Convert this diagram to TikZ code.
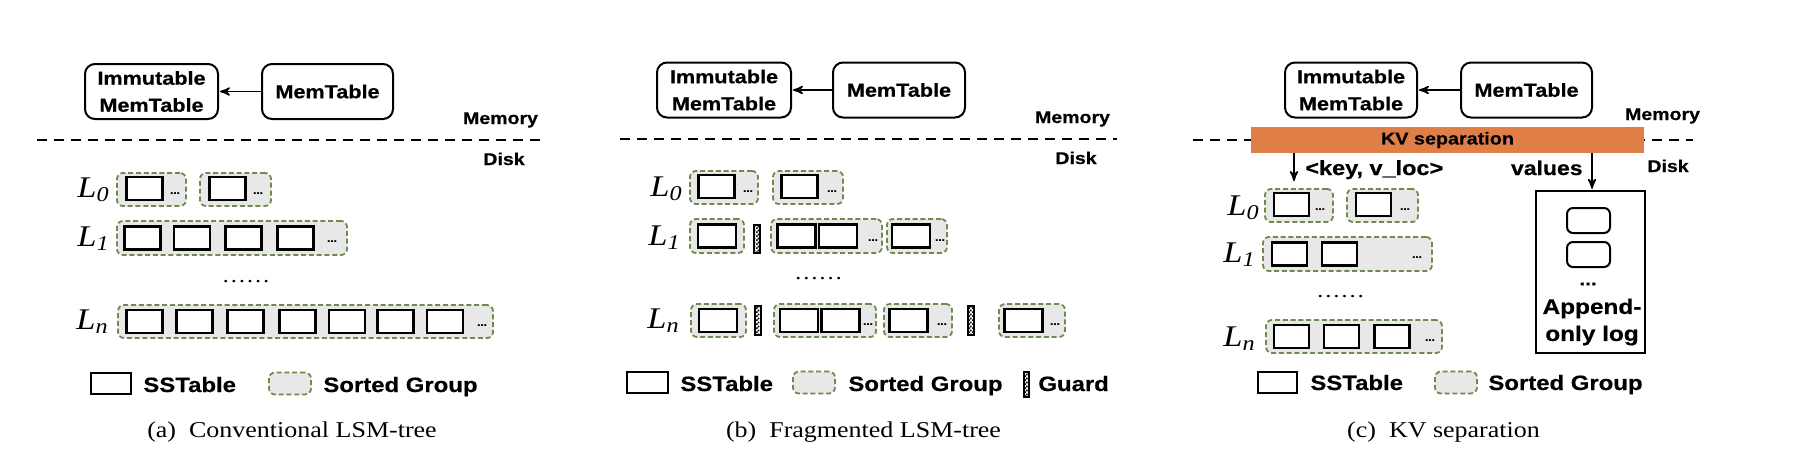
\documentclass[tikz,border=0pt]{standalone}
\usepackage{fontspec}
\setmainfont{Liberation Serif}[FakeStretch=1.15]
\setsansfont{Liberation Sans}[FakeStretch=1.15,BoldFeatures={FakeBold=0.5}]
\usetikzlibrary{arrows,patterns,positioning}

\definecolor{sgreen}{HTML}{6E8B4E}
\definecolor{sgray}{HTML}{E8E8E8}
\definecolor{kvorange}{HTML}{E07E47}

% small black/white checks for the guards
\pgfdeclarepatternformonly{guardcheck}{\pgfqpoint{0pt}{0pt}}{\pgfqpoint{2pt}{2pt}}{\pgfqpoint{2pt}{2pt}}{%
  \pgfpathrectangle{\pgfqpoint{0pt}{0pt}}{\pgfqpoint{1pt}{1pt}}%
  \pgfpathrectangle{\pgfqpoint{1pt}{1pt}}{\pgfqpoint{1pt}{1pt}}%
  \pgfusepath{fill}}

\begin{document}
\begin{tikzpicture}[x=0.5pt,y=-0.5pt,>=stealth',
    memnode/.style={draw,fill=white,rounded corners=5pt,line width=1pt,align=center,inner sep=0pt,minimum height=27.5pt,
                    font=\fontsize{9.4}{13.5}\selectfont\sffamily\bfseries},
    sst/.style={draw,fill=white,line width=1.3pt,inner sep=0pt,minimum width=18pt,minimum height=11.5pt},
    sgroup/.style={draw=sgreen,fill=sgray,dash pattern=on 2.5pt off 1.4pt,line width=0.9pt,rounded corners=3pt,
                   inner sep=0pt,minimum height=16.5pt},
    guard/.style={draw,fill=white,line width=0.7pt,pattern=guardcheck,inner sep=0pt,minimum width=3pt,minimum height=14pt},
    gdots/.style={inner sep=0pt,font=\fontsize{5}{5}\selectfont\sffamily\bfseries},
    lvl/.style={anchor=base west,inner sep=0pt,font=\fontsize{15}{15}\selectfont\itshape},
    vdots/.style={anchor=base,inner sep=0pt,font=\fontsize{10.5}{10.5}\selectfont},
    side/.style={anchor=base,inner sep=0pt,font=\fontsize{8.5}{8.5}\selectfont\sffamily\bfseries},
    legtext/.style={anchor=base west,inner sep=0pt,font=\fontsize{10.4}{10.4}\selectfont\sffamily\bfseries},
    captext/.style={anchor=base,inner sep=0pt,font=\fontsize{11.3}{11.3}\selectfont},
    sepline/.style={dash pattern=on 5pt off 3.5pt,line width=1pt},
    memarrow/.style={->,line width=0.8pt,shorten >=0.5pt}]

  \useasboundingbox (0,0) rectangle (1798,468);

  % (a) conventional LSM-tree
  \node[memnode,minimum width=66.5pt] (a-imm) at (151.5,91.5) {Immutable\\MemTable};
  \node[memnode,minimum width=65.5pt] (a-mem) at (327.5,91.5) {MemTable};
  \draw[memarrow] (a-mem) -- (a-imm);
  \node[side] (a-memory) at (500.5,124) {Memory};
  \node[side] (a-disk) at (504,165) {Disk};
  \draw[sepline] (37,140) -- (545,140);

  \node[lvl] (a-l0) at (77,197) {L\textsubscript{0}};
  \node[lvl] (a-l1) at (77,246) {L\textsubscript{1}};
  \node[lvl] (a-ln) at (76,329) {L\textsubscript{n}};

  \node[sgroup,minimum width=34.5pt] (a-g01) at (151.5,189.5) {};
  \node[sgroup,minimum width=35.5pt] (a-g02) at (235.5,189.5) {};
  \node[sst] (a-s01) at (144.5,188.5) {};
  \node[sst] (a-s02) at (227.5,188.5) {};
  \node[gdots] (a-d01) at (175,193) {...};
  \node[gdots] (a-d02) at (258,193) {...};

  \node[sgroup,minimum width=115pt,minimum height=17pt] (a-g1) at (232,238) {};
  \foreach \x [count=\i] in {142.5,192,243.5,295.5}
    \node[sst] (a-s1\i) at (\x,238) {};
  \node[gdots] (a-d1) at (332,241) {...};

  \node[vdots] (a-dots) at (246,282) {\ldots\ldots};

  \node[sgroup,minimum width=187.5pt] (a-gn) at (305.5,321.5) {};
  \foreach \x [count=\i] in {144.5,194.5,245.5,297.5,347,395.5,445}
    \node[sst] (a-sn\i) at (\x,321.5) {};
  \node[gdots] (a-dn) at (482,325) {...};

  \node[sst,minimum width=20pt,minimum height=10.5pt] (a-ksst) at (111,383.5) {};
  \node[legtext] (a-tsst) at (143,392) {SSTable};
  \node[sgroup,minimum width=21pt,minimum height=11pt] (a-ksg) at (290,383.5) {};
  \node[legtext] (a-tsg) at (323,392) {Sorted Group};
  \node[captext] (a-cap) at (292,437) {(a)\ \ Conventional LSM-tree};

  % (b) fragmented LSM-tree
  \node[memnode,minimum width=67pt] (b-imm) at (724,90) {Immutable\\MemTable};
  \node[memnode,minimum width=66pt] (b-mem) at (899,90) {MemTable};
  \draw[memarrow] (b-mem) -- (b-imm);
  \node[side] (b-memory) at (1072.5,123) {Memory};
  \node[side] (b-disk) at (1076,164) {Disk};
  \draw[sepline] (620,139) -- (1117,139);

  \node[lvl] (b-l0) at (650,196) {L\textsubscript{0}};
  \node[lvl] (b-l1) at (648,245) {L\textsubscript{1}};
  \node[lvl] (b-ln) at (647,328) {L\textsubscript{n}};

  \node[sgroup,minimum width=34pt] (b-g01) at (724,187.5) {};
  \node[sgroup,minimum width=35pt] (b-g02) at (808,187.5) {};
  \node[sst] (b-s01) at (716.5,186.5) {};
  \node[sst] (b-s02) at (799.5,186.5) {};
  \node[gdots] (b-d01) at (748,191) {...};
  \node[gdots] (b-d02) at (832,191) {...};

  \node[sgroup,minimum width=27pt,minimum height=17pt] (b-g11) at (717,236) {};
  \node[guard] (b-gd1) at (757,239) {};
  \node[sgroup,minimum width=55.5pt,minimum height=17pt] (b-g12) at (826.5,236) {};
  \node[sgroup,minimum width=30pt,minimum height=17pt] (b-g13) at (917,236) {};
  \foreach \x [count=\i] in {717,796.5,838,911}
    \node[sst,minimum width=19pt] (b-s1\i) at (\x,236) {};
  \node[gdots] (b-d12) at (873,240) {...};
  \node[gdots] (b-d13) at (940,240) {...};

  \node[vdots] (b-dots) at (818.5,279) {\ldots\ldots};

  \node[sgroup,minimum width=27.5pt] (b-gn1) at (718.5,320.5) {};
  \node[guard,minimum height=14.5pt] (b-gdn1) at (758,320.5) {};
  \node[sgroup,minimum width=51pt] (b-gn2) at (825,320.5) {};
  \node[sgroup,minimum width=34pt] (b-gn3) at (918,320.5) {};
  \node[guard,minimum height=14.5pt] (b-gdn2) at (971,320.5) {};
  \node[sgroup,minimum width=33pt] (b-gn4) at (1032,320.5) {};
  \foreach \x [count=\i] in {718,799,840.5,908.5,1023.5}
    \node[sst,minimum width=19pt] (b-sn\i) at (\x,320.5) {};
  \node[gdots] (b-dn2) at (868,324) {...};
  \node[gdots] (b-dn3) at (942,324) {...};
  \node[gdots] (b-dn4) at (1055,324) {...};

  \node[sst,minimum width=20.5pt,minimum height=10.5pt] (b-ksst) at (647.5,382.5) {};
  \node[legtext] (b-tsst) at (680,391) {SSTable};
  \node[sgroup,minimum width=21pt,minimum height=11pt] (b-ksg) at (814,382.5) {};
  \node[legtext] (b-tsg) at (848,391) {Sorted Group};
  \node[guard,minimum width=2.5pt,minimum height=12.5pt] (b-kgd) at (1026.5,384.5) {};
  \node[legtext] (b-tgd) at (1038,391) {Guard};
  \node[captext] (b-cap) at (863.5,437) {(b)\ \ Fragmented LSM-tree};

  % (c) KV separation
  \node[memnode,minimum width=66pt] (c-imm) at (1351,90) {Immutable\\MemTable};
  \node[memnode,minimum width=65.5pt] (c-mem) at (1526.5,90) {MemTable};
  \draw[memarrow] (c-mem) -- (c-imm);
  \node[side] (c-memory) at (1662.5,120) {Memory};
  \node[side] (c-disk) at (1668,172) {Disk};
  \draw[sepline] (1193,140) -- (1693,140);
  \node[fill=kvorange,inner sep=0pt,minimum width=196.5pt,minimum height=13pt,
        font=\fontsize{8.6}{8.6}\selectfont\sffamily\bfseries] (c-kv) at (1447.5,140) {KV separation};

  \coordinate (c-keyend) at (1294,182);
  \draw[memarrow] (c-kv.south -| c-keyend) -- (c-keyend);
  \node[anchor=base west,inner sep=0pt,font=\fontsize{10.2}{10.2}\selectfont\sffamily\bfseries] (c-key) at (1305,175) {<key, v\_loc>};
  \node[anchor=base east,inner sep=0pt,font=\fontsize{10}{10}\selectfont\sffamily\bfseries] (c-val) at (1583,175) {values};

  \node[draw,line width=1.2pt,inner sep=0pt,minimum width=54.5pt,minimum height=81pt] (c-log) at (1590.5,272) {};
  \coordinate (c-valx) at (1592,0);
  \draw[memarrow] (c-kv.south -| c-valx) -- (c-valx |- c-log.north);
  \node[draw,rounded corners=3pt,line width=1pt,minimum width=21.5pt,minimum height=12.5pt] (c-v1) at (1588.5,220.5) {};
  \node[draw,rounded corners=3pt,line width=1pt,minimum width=21.5pt,minimum height=12.5pt] (c-v2) at (1588.5,254.5) {};
  \node[inner sep=0pt,font=\fontsize{9}{9}\selectfont\sffamily\bfseries] (c-vdots) at (1588,284) {...};
  \node[align=center,inner sep=0pt,font=\fontsize{10.6}{13.5}\selectfont\sffamily\bfseries] (c-logtext) at (1592,322) {Append-\\only log};

  \node[lvl] (c-l0) at (1227,215) {L\textsubscript{0}};
  \node[lvl] (c-l1) at (1223,262) {L\textsubscript{1}};
  \node[lvl] (c-ln) at (1223,346) {L\textsubscript{n}};

  \node[sgroup,minimum width=34pt] (c-g01) at (1299,205.5) {};
  \node[sgroup,minimum width=35.5pt] (c-g02) at (1382.5,205.5) {};
  \node[sst,minimum width=17.5pt] (c-s01) at (1291.5,204.5) {};
  \node[sst,minimum width=17.5pt] (c-s02) at (1373.5,204.5) {};
  \node[gdots] (c-d01) at (1320,209) {...};
  \node[gdots] (c-d02) at (1405,209) {...};

  \node[sgroup,minimum width=84.5pt,minimum height=17pt] (c-g1) at (1347.5,254) {};
  \foreach \x [count=\i] in {1289.5,1339.5}
    \node[sst,minimum width=17.5pt] (c-s1\i) at (\x,254) {};
  \node[gdots] (c-d1) at (1417,257) {...};

  \node[vdots] (c-dots) at (1340.5,297) {\ldots\ldots};

  \node[sgroup,minimum width=88pt] (c-gn) at (1354,336.5) {};
  \foreach \x [count=\i] in {1291.5,1341.5,1392}
    \node[sst,minimum width=17.5pt] (c-sn\i) at (\x,336.5) {};
  \node[gdots] (c-dn) at (1430,340) {...};

  \node[sst,minimum width=19.5pt,minimum height=10.5pt] (c-ksst) at (1277.5,382.5) {};
  \node[legtext] (c-tsst) at (1310,390) {SSTable};
  \node[sgroup,minimum width=21pt,minimum height=11pt] (c-ksg) at (1456,382.5) {};
  \node[legtext] (c-tsg) at (1488,390) {Sorted Group};
  \node[captext] (c-cap) at (1443.5,437) {(c)\ \ KV separation};
\end{tikzpicture}
\end{document}
